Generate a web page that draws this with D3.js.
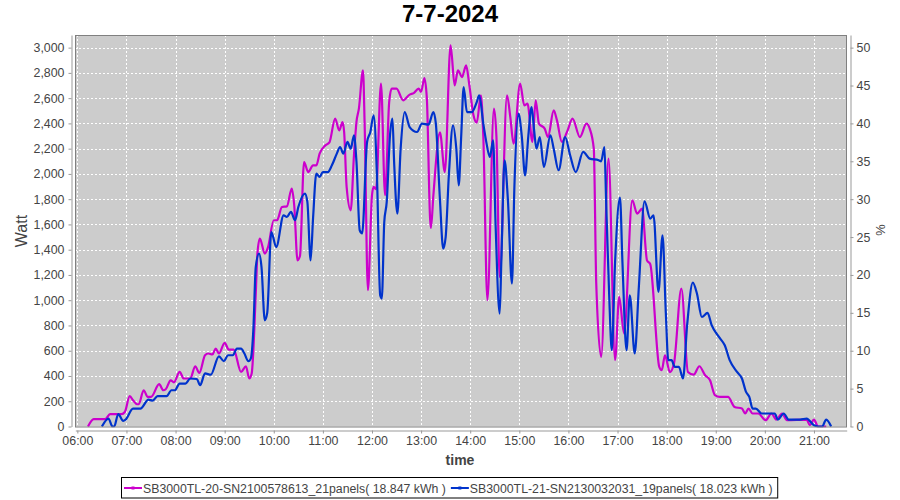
<!DOCTYPE html>
<html><head><meta charset="utf-8">
<script src="https://cdn.jsdelivr.net/npm/d3@7"></script>
<style>body{margin:0;background:#fff}</style>
</head><body>
<svg id="chart" width="900" height="500"></svg>
<script>
const chartTitle = "7-7-2024";
const seriesNames = ["SB3000TL-20-SN2100578613_21panels( 18.847 kWh )", "SB3000TL-21-SN2130032031_19panels( 18.023 kWh )"];
const seriesColors = ["#cc00cc", "#0033cc"];
const xAxisTitle = "time";
const yAxisTitle = "Watt";
const y2AxisTitle = "%";

const s1Times = ["06:13","06:20","06:34","06:40","06:54","06:58","07:04","07:08","07:13","07:15","07:21","07:26","07:30","07:40","07:45","07:48","07:54","07:58","08:05","08:10","08:18","08:24","08:29","08:36","08:40","08:45","08:49","08:53","09:00","09:05","09:11","09:20","09:26","09:30","09:33","09:38","09:40","09:43","09:49","09:53","10:00","10:04","10:10","10:16","10:22","10:25","10:29","10:32","10:37","10:42","10:48","10:52","10:56","11:03","11:08","11:15","11:20","11:24","11:26","11:29","11:34","11:38","11:41","11:44","11:49","11:51","11:55","12:00","12:02","12:05","12:11","12:16","12:21","12:24","12:30","12:38","12:46","12:51","12:57","13:00","13:04","13:07","13:11","13:12","13:15","13:23","13:29","13:36","13:41","13:45","13:50","13:55","13:59","14:04","14:08","14:13","14:16","14:21","14:29","14:32","14:36","14:45","14:49","14:53","15:01","15:06","15:10","15:16","15:20","15:24","15:31","15:35","15:42","15:46","15:52","15:59","16:05","16:14","16:22","16:26","16:31","16:34","16:40","16:49","16:57","17:02","17:08","17:18","17:24","17:30","17:36","17:40","17:51","17:54","17:58","18:04","18:09","18:18","18:26","18:33","18:40","18:47","18:53","18:59","19:05","19:15","19:23","19:32","19:36","19:40","19:45","19:52","20:01","20:08","20:14","20:21","20:27","20:51","20:55","21:00","21:05","21:15"];
const s1Watts = [0,58,58,98,98,115,240,208,176,176,287,234,234,335,287,295,366,350,432,380,380,477,424,564,578,570,617,578,662,609,609,432,477,380,420,1053,1369,1488,1369,1420,1633,1633,1738,1743,1884,1750,1316,1350,2094,2015,2068,2068,2161,2226,2250,2438,2345,2411,2330,1897,1712,2150,2411,2517,2820,2400,1079,1831,1897,1880,2715,1831,2569,2675,2675,2583,2628,2640,2675,2650,2759,2600,1646,1572,1831,2330,2015,3018,2701,2820,2767,2860,2700,2464,2406,2622,2300,1000,2517,2300,1184,2622,2450,2240,2715,2543,2556,2253,2583,2398,2359,2292,2503,2424,2253,2345,2438,2292,2398,2359,2200,1132,551,2121,525,1026,736,1791,1686,1725,1316,1285,472,446,564,430,500,1092,432,410,477,406,366,248,234,234,155,142,103,142,103,103,50,103,55,103,50,55,10,55,0,0];

const s2Times = ["06:30","06:38","06:43","06:45","06:50","06:56","06:59","07:08","07:17","07:27","07:32","07:38","07:49","07:55","07:59","08:05","08:12","08:18","08:26","08:30","08:36","08:43","08:53","08:59","09:04","09:10","09:15","09:20","09:24","09:29","09:32","09:35","09:38","09:42","09:45","09:49","09:52","09:57","10:03","10:12","10:16","10:21","10:26","10:30","10:38","10:41","10:45","10:48","10:52","10:56","11:00","11:06","11:11","11:17","11:21","11:25","11:30","11:34","11:38","11:41","11:45","11:48","11:54","11:58","12:02","12:06","12:10","12:12","12:15","12:18","12:22","12:25","12:27","12:31","12:35","12:40","12:46","12:55","13:01","13:09","13:15","13:18","13:23","13:27","13:30","13:34","13:39","13:43","13:46","13:49","13:52","13:56","14:02","14:08","14:11","14:16","14:20","14:24","14:28","14:31","14:36","14:38","14:42","14:46","14:51","14:54","14:59","15:03","15:07","15:11","15:15","15:18","15:21","15:25","15:30","15:38","15:42","15:48","15:56","16:02","16:09","16:18","16:26","16:37","16:40","16:44","16:46","16:50","16:53","16:57","17:03","17:06","17:11","17:15","17:21","17:26","17:33","17:40","17:44","17:50","17:55","17:59","18:02","18:06","18:10","18:15","18:20","18:25","18:32","18:37","18:43","18:50","18:55","19:05","19:11","19:17","19:26","19:32","19:37","19:41","19:45","19:49","19:56","20:05","20:12","20:16","20:23","20:29","20:43","20:51","21:00","21:05","21:10","21:15","21:21"];
const s2Watts = [0,63,0,0,98,45,55,142,142,213,205,240,240,287,287,340,340,380,376,327,420,410,556,517,564,564,617,617,580,517,540,762,1263,1369,1263,841,900,1540,1421,1672,1660,1699,1633,1738,1844,1780,1316,1650,2002,1976,2015,2015,2068,2161,2213,2161,2253,2200,2306,2100,1554,1530,2253,2332,2464,2000,1039,1013,1619,1778,2306,2438,2100,1686,2200,2490,2371,2332,2398,2390,2490,2400,1800,1409,1500,2000,2385,2200,1910,2300,2688,2490,2490,2569,2622,2398,2240,2134,2266,1600,894,1300,2108,1800,1132,1900,2477,2300,1989,2300,2530,2350,2200,2292,2055,2306,2200,2029,2292,2150,2015,2174,2121,2108,2100,2213,1800,1000,604,1300,1812,1300,604,1039,578,1100,1783,1646,1672,1066,1514,900,525,525,472,472,380,800,1140,1053,867,899,802,700,643,525,432,380,274,234,142,142,103,103,103,55,103,55,55,63,10,0,0,55,0];

const wattTicks = [0,200,400,600,800,1000,1200,1400,1600,1800,2000,2200,2400,2600,2800,3000];
const pctTicks = [0,5,10,15,20,25,30,35,40,45,50];
const hourTicks = ["06:00","07:00","08:00","09:00","10:00","11:00","12:00","13:00","14:00","15:00","16:00","17:00","18:00","19:00","20:00","21:00"];
const timeDomain = ["05:57:30","21:40:00"];
const wattMax = 3100;

const parseT = s => d3.timeParse("%Y-%m-%d %H:%M:%S")("2024-07-07 " + (s.length === 5 ? s + ":00" : s));
const FONT = "'Liberation Sans', Arial, sans-serif";
const svg = d3.select("#chart");
const L = 75, R = 847, T = 35, B = 426.5;

const x = d3.scaleTime().domain(timeDomain.map(parseT)).range([75.3, 846.7]);
const y = d3.scaleLinear().domain([0, wattMax]).range([B, T]);
const y2 = d3.scaleLinear().domain([0, wattMax / 60]).range([B, T]);

// title
svg.append("text").attr("x", 450).attr("y", 22).attr("text-anchor", "middle")
  .attr("font-family", FONT).attr("font-weight", "bold").attr("font-size", 24).attr("fill", "#000").text(chartTitle);

// plot background
svg.append("rect").attr("x", L).attr("y", T).attr("width", R - L).attr("height", B - T).attr("fill", "#cccccc");

// gridlines
const grid = svg.append("g").attr("stroke", "#ffffff").attr("stroke-width", 1).attr("stroke-dasharray", "2,2");
grid.selectAll("line.v").data(hourTicks.map(parseT)).join("line")
  .attr("x1", d => Math.round(x(d)) + 0.5).attr("x2", d => Math.round(x(d)) + 0.5).attr("y1", T).attr("y2", B);
grid.selectAll("line.h").data(wattTicks).join("line")
  .attr("y1", d => Math.round(y(d)) + 0.5).attr("y2", d => Math.round(y(d)) + 0.5).attr("x1", L).attr("x2", R);

// series
const line = d3.line().x(d => x(d.t)).y(d => y(d.v)).curve(d3.curveMonotoneX);
const series = [
  s1Times.map((t, i) => ({t: parseT(t), v: s1Watts[i]})),
  s2Times.map((t, i) => ({t: parseT(t), v: s2Watts[i]}))
];
svg.append("clipPath").attr("id", "clip").append("rect").attr("x", L).attr("y", T).attr("width", R - L).attr("height", B - T + 1);
series.forEach((s, i) => {
  svg.append("path").datum(s).attr("d", line).attr("fill", "none")
    .attr("stroke", seriesColors[i]).attr("stroke-width", 2.2).attr("stroke-linejoin", "round")
    .attr("clip-path", "url(#clip)");
});

// plot outline
svg.append("rect").attr("x", L + 0.5).attr("y", T + 0.5).attr("width", R - L - 1).attr("height", B - T).attr("fill", "none")
  .attr("stroke", "#808080").attr("stroke-width", 1);

function styleAxis(g) {
  g.select(".domain").attr("stroke", "#999999");
  g.selectAll(".tick line").attr("stroke", "#999999");
  g.selectAll(".tick text").attr("fill", "#444444").attr("font-family", FONT).attr("font-size", 12.4);
}

// axes
svg.append("g").attr("transform", "translate(71.5,0)")
  .call(d3.axisLeft(y).tickValues(wattTicks).tickFormat(d3.format(",")).tickSize(3).tickSizeOuter(0).tickPadding(4))
  .call(styleAxis);
svg.append("g").attr("transform", "translate(850.5,0)")
  .call(d3.axisRight(y2).tickValues(pctTicks).tickFormat(d3.format("d")).tickSize(3).tickSizeOuter(0).tickPadding(3))
  .call(styleAxis);
svg.append("g").attr("transform", "translate(0,430.5)")
  .call(d3.axisBottom(x).tickValues(hourTicks.map(parseT)).tickFormat(d3.timeFormat("%H:%M")).tickSize(3).tickSizeOuter(0).tickPadding(3))
  .call(styleAxis);

// axis titles
svg.append("text").attr("transform", "translate(27,231) rotate(-90)").attr("text-anchor", "middle")
  .attr("font-family", FONT).attr("font-size", 16).attr("fill", "#444444").text(yAxisTitle);
svg.append("text").attr("transform", "translate(876,230) rotate(90)").attr("text-anchor", "middle")
  .attr("font-family", FONT).attr("font-size", 13).attr("fill", "#444444").text(y2AxisTitle);
svg.append("text").attr("x", 460).attr("y", 465).attr("text-anchor", "middle")
  .attr("font-family", FONT).attr("font-weight", "bold").attr("font-size", 14).attr("fill", "#444444").text(xAxisTitle);

// legend
const lg = svg.append("g");
const box = lg.append("rect").attr("x", 121.5).attr("y", 477.5).attr("height", 20.5).attr("fill", "#fff").attr("stroke", "#000").attr("stroke-width", 1);
let cx = 124;
seriesNames.forEach((name, i) => {
  lg.append("line").attr("x1", cx).attr("x2", cx + 18).attr("y1", 488).attr("y2", 488).attr("stroke", seriesColors[i]).attr("stroke-width", 2);
  lg.append("rect").attr("x", cx + 7.5).attr("y", 486.5).attr("width", 3).attr("height", 3).attr("fill", seriesColors[i]);
  const t = lg.append("text").attr("x", cx + 19).attr("y", 492.5).attr("font-family", FONT).attr("font-size", 12.3).attr("fill", "#444444").text(name);
  cx = cx + 19 + t.node().getComputedTextLength() + 5;
});
box.attr("width", cx - 121.5);
</script>
</body></html>
